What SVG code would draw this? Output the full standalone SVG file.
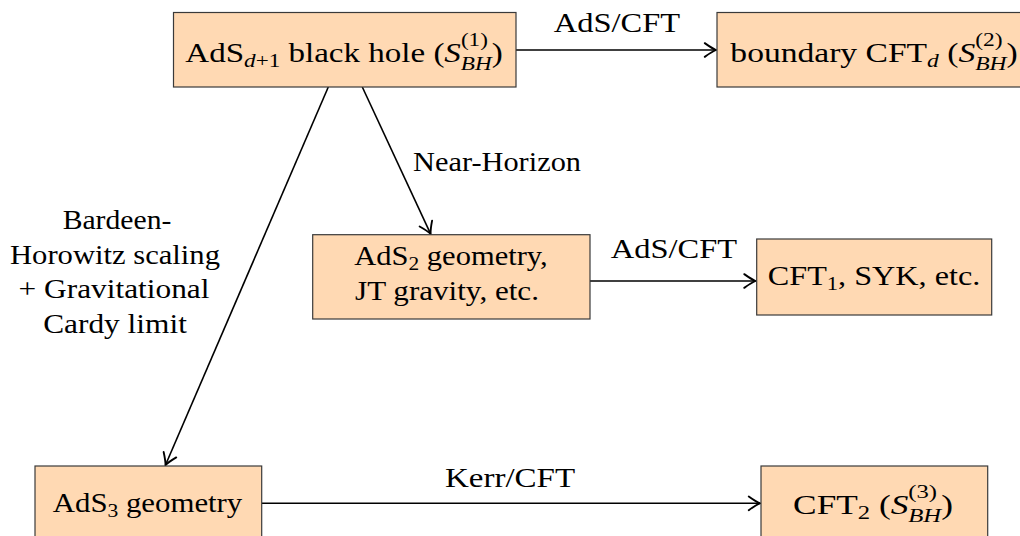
<svg xmlns="http://www.w3.org/2000/svg" width="1020" height="536" viewBox="0 0 1020 536">
<style>
.box{fill:#FFD9B3;stroke:#3a3a3a;stroke-width:1.2}
.t{font-family:"Liberation Serif","Times New Roman",serif;font-size:28px;fill:#000}
.s{font-size:19.6px}
.i{font-style:italic}
.edge{fill:none;stroke:#000;stroke-width:1.6}
</style>
<defs>
<marker id="arr" markerUnits="userSpaceOnUse" markerWidth="20" markerHeight="20" viewBox="-12 -8 16 16" refX="0" refY="0" orient="auto">
<path d="M-9,-5.5 Q-3,-1.2 0,0 Q-3,1.2 -9,5.5" fill="none" stroke="#000" stroke-width="1.5" stroke-linecap="round"/>
</marker>
</defs>
<rect width="1020" height="536" fill="#fff"/>
<g id="connectors">
<line class="edge" x1="516" y1="50" x2="716" y2="50" marker-end="url(#arr)"/>
<line class="edge" x1="590" y1="281" x2="755.5" y2="281" marker-end="url(#arr)"/>
<line class="edge" x1="261.7" y1="503.3" x2="760" y2="503.3" marker-end="url(#arr)"/>
<line class="edge" x1="328.3" y1="87" x2="165.5" y2="465" marker-end="url(#arr)"/>
<line class="edge" x1="362.3" y1="87" x2="430.6" y2="233.8" marker-end="url(#arr)"/>
<text class="t" text-anchor="middle" transform="translate(617,32) scale(1.16,1)">AdS/CFT</text>
<text class="t" text-anchor="middle" transform="translate(674,258) scale(1.16,1)">AdS/CFT</text>
<text class="t" text-anchor="middle" transform="translate(510,487) scale(1.18,1)">Kerr/CFT</text>
<text class="t" text-anchor="middle" transform="translate(497,171) scale(1.085,1)">Near-Horizon</text>
<g class="t" text-anchor="middle">
<text transform="translate(117,229) scale(1.06,1)">Bardeen-</text>
<text transform="translate(115,263.5) scale(1.094,1)">Horowitz scaling</text>
<text transform="translate(114,298) scale(1.12,1)">+ Gravitational</text>
<text transform="translate(115,332.5) scale(1.12,1)">Cardy limit</text>
</g>
</g>
<g id="n1">
<rect class="box" x="173.5" y="12.5" width="342.5" height="74.5"/>
<text class="t" text-anchor="middle" transform="translate(344,62) scale(1.18,1)">AdS<tspan class="s i" dy="5">d</tspan><tspan class="s" dy="0">+1</tspan><tspan dy="-5"> black hole (</tspan><tspan class="i">S</tspan><tspan class="s" dy="-16">(1)</tspan><tspan class="s i" dx="-22.9" dy="24">BH</tspan><tspan dy="-8">)</tspan></text>
</g>
<g id="n2">
<rect class="box" x="717" y="12.5" width="314" height="74.5"/>
<text class="t" text-anchor="middle" transform="translate(874,62) scale(1.2,1)">boundary CFT<tspan class="s i" dy="5">d</tspan><tspan dy="-5"> (</tspan><tspan class="i">S</tspan><tspan class="s" dy="-16">(2)</tspan><tspan class="s i" dx="-22.9" dy="24">BH</tspan><tspan dy="-8">)</tspan></text>
</g>
<g id="n3">
<rect class="box" x="312.7" y="234.7" width="277.3" height="84.3"/>
<text class="t" text-anchor="middle" transform="translate(451,265) scale(1.09,1)">AdS<tspan class="s" dy="5">2</tspan><tspan dy="-5"> geometry,</tspan></text>
<text class="t" text-anchor="middle" transform="translate(447,300) scale(1.11,1)">JT gravity, etc.</text>
</g>
<g id="n4">
<rect class="box" x="756.7" y="239" width="235" height="76"/>
<text class="t" text-anchor="middle" transform="translate(874,285) scale(1.15,1)">CFT<tspan class="s" dy="5">1</tspan><tspan dy="-5">, SYK, etc.</tspan></text>
</g>
<g id="n5">
<rect class="box" x="35" y="466" width="226.7" height="76"/>
<text class="t" text-anchor="middle" transform="translate(147.5,512) scale(1.1,1)">AdS<tspan class="s" dy="5">3</tspan><tspan dy="-5"> geometry</tspan></text>
</g>
<g id="n6">
<rect class="box" x="761" y="466" width="226.7" height="76"/>
<text class="t" text-anchor="middle" transform="translate(873,514) scale(1.26,1)">CFT<tspan class="s" dy="5">2</tspan><tspan dy="-5"> (</tspan><tspan class="i">S</tspan><tspan class="s" dy="-16">(3)</tspan><tspan class="s i" dx="-22.9" dy="24">BH</tspan><tspan dy="-8">)</tspan></text>
</g>
</svg>
